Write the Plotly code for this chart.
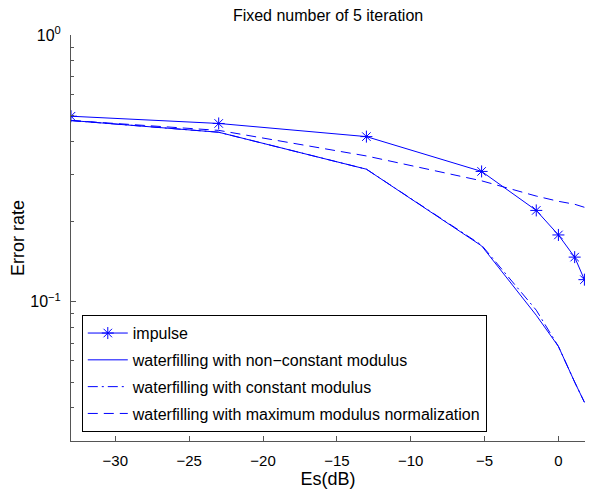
import plotly.graph_objects as go

es_db = [-33, -23, -13, -5.2, -1.5, 0, 1.1, 1.76]
impulse = [0.496, 0.466, 0.416, 0.308, 0.220, 0.178, 0.147, 0.121]
wf_nonconst = [0.478, 0.432, 0.314, 0.162, 0.089, 0.068, 0.050, 0.042]
wf_const = [0.478, 0.432, 0.314, 0.163, 0.093, 0.068, 0.050, 0.042]
wf_maxnorm = [0.478, 0.439, 0.352, 0.284, 0.249, 0.238, 0.232, 0.226]

blue = "#0000ff"
fig = go.Figure()
fig.add_trace(go.Scatter(x=es_db, y=impulse, mode="lines+markers", name="impulse", legendgroup="a",
                         line=dict(color=blue, width=1),
                         marker=dict(symbol="asterisk-open", size=10, color=blue, line=dict(color=blue, width=1))))
fig.add_trace(go.Scatter(x=es_db, y=wf_nonconst, mode="lines", name="waterfilling with non\u2212constant modulus",
                         legendgroup="b", line=dict(color=blue, width=1)))
fig.add_trace(go.Scatter(x=es_db, y=wf_const, mode="lines", name="waterfilling with constant modulus",
                         legendgroup="c", line=dict(color=blue, width=1, dash="10px,4px,2px,4px")))
fig.add_trace(go.Scatter(x=es_db, y=wf_maxnorm, mode="lines", name="waterfilling with maximum modulus normalization",
                         legendgroup="d", line=dict(color=blue, width=1, dash="10px,6px")))

minor_vals = [k * 10 ** e for e in (-2, -1) for k in range(2, 10)]
fig.update_layout(
    width=590, height=491,
    margin=dict(l=71, r=5, t=35, b=48),
    paper_bgcolor="white", plot_bgcolor="white",
    font=dict(family="Liberation Sans, Arial, sans-serif", size=15, color="black"),
    title=dict(text="Fixed number of 5 iteration", x=0.556, xanchor="center", y=0.968, yanchor="middle",
               font=dict(size=16)),
    showlegend=True,
    legend=dict(x=0.021, y=0.31, xanchor="left", yanchor="top", bgcolor="white",
                bordercolor="black", borderwidth=1, font=dict(size=16), tracegroupgap=3,
                itemwidth=40),
)
fig.update_xaxes(range=[-33, 1.8], tickvals=[-30, -25, -20, -15, -10, -5, 0],
                 ticktext=["\u221230", "\u221225", "\u221220", "\u221215", "\u221210", "\u22125", "0"],
                 ticks="inside", ticklen=5, tickcolor="#555", showline=True, linecolor="#555",
                 showgrid=False, zeroline=False, title=dict(text="Es(dB)", standoff=4),
                 ticklabelstandoff=6, tickfont=dict(size=15))
fig.update_yaxes(type="log", range=[-1.522, 0], tickvals=[0.1, 1],
                 ticktext=["10<sup>\u22121</sup>", "10<sup>0</sup>"],
                 ticks="inside", ticklen=5, tickcolor="#555", showline=True, linecolor="#555",
                 showgrid=False, zeroline=False, title=dict(text="Error rate", standoff=0),
                 ticklabelstandoff=6,
                 minor=dict(tickvals=minor_vals, ticks="inside", ticklen=3, tickcolor="#555", showgrid=False),
                 tickfont=dict(size=16))
fig.write_html("out.html")
